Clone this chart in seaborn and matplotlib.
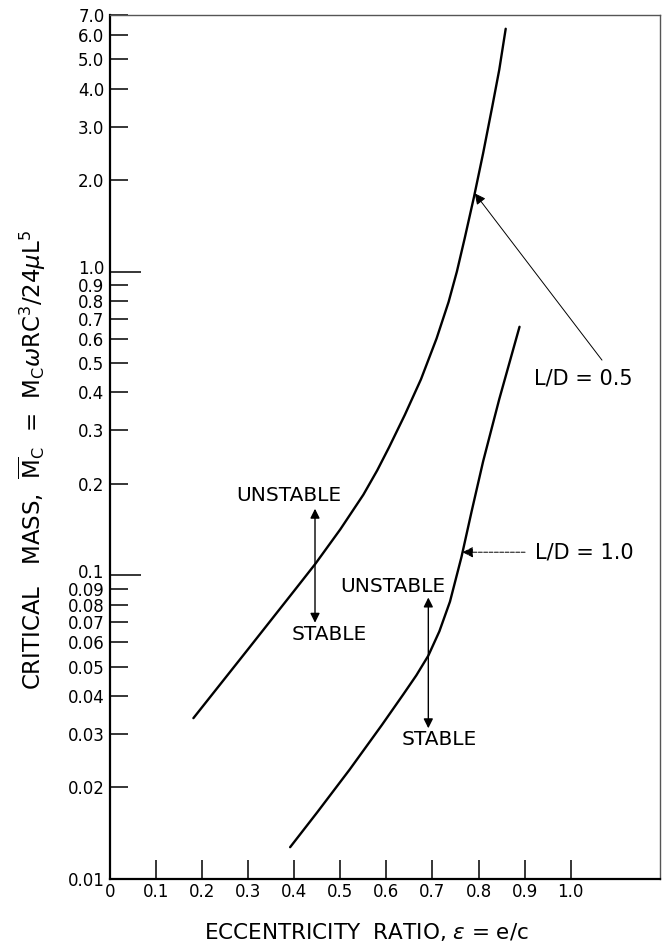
import numpy as np
import pandas as pd
import seaborn as sns
import matplotlib.pyplot as plt
from matplotlib.transforms import ScaledTranslation

# curve: L/D = 0.5
ecc_05 = [0.181, 0.30, 0.40, 0.446, 0.50, 0.55, 0.58, 0.606, 0.64, 0.675, 0.709, 0.735,
          0.753, 0.77, 0.79, 0.81, 0.83, 0.845, 0.859]
mass_05 = [0.0338, 0.0571, 0.0889, 0.1091, 0.1416, 0.1841, 0.2213, 0.2642, 0.3373, 0.4416,
           0.6026, 0.7943, 1.0, 1.288, 1.758, 2.455, 3.508, 4.624, 6.31]

# L/D = 1.0
ecc_10 = [0.391, 0.45, 0.52, 0.59, 0.637, 0.665, 0.691, 0.715, 0.738, 0.763, 0.785,
          0.810, 0.845, 0.889]
mass_10 = [0.0127, 0.01656, 0.02286, 0.03206, 0.04055, 0.04677, 0.0543, 0.0653, 0.0818,
           0.1148, 0.1622, 0.2371, 0.380, 0.658]

x_ticks = [0, 0.1, 0.2, 0.3, 0.4, 0.5, 0.6, 0.7, 0.8, 0.9, 1.0]
x_labels = ["0", "0.1", "0.2", "0.3", "0.4", "0.5", "0.6", "0.7", "0.8", "0.9", "1.0"]
y_ticks = [0.01, 0.02, 0.03, 0.04, 0.05, 0.06, 0.07, 0.08, 0.09, 0.1,
           0.2, 0.3, 0.4, 0.5, 0.6, 0.7, 0.8, 0.9, 1.0,
           2.0, 3.0, 4.0, 5.0, 6.0, 7.0]
y_labels = ["0.01", "0.02", "0.03", "0.04", "0.05", "0.06", "0.07", "0.08", "0.09", "0.1",
            "0.2", "0.3", "0.4", "0.5", "0.6", "0.7", "0.8", "0.9", "1.0",
            "2.0", "3.0", "4.0", "5.0", "6.0", "7.0"]

sns.set_style("ticks")
plt.rcParams['font.family'] = ['DejaVu Sans']
plt.rcParams['mathtext.fontset'] = 'dejavusans'
plt.rcParams['text.color'] = 'black'
plt.rcParams['axes.labelcolor'] = 'black'
plt.rcParams['xtick.color'] = 'black'
plt.rcParams['ytick.color'] = 'black'

fig = plt.figure(figsize=(6.64, 9.42), dpi=100)
ax = fig.add_axes([0.1657, 0.0672, 0.8283, 0.9168])

df = pd.concat([
    pd.DataFrame({"ecc": ecc_05, "mass": mass_05, "LD": "0.5"}),
    pd.DataFrame({"ecc": ecc_10, "mass": mass_10, "LD": "1.0"}),
])
sns.lineplot(data=df, x="ecc", y="mass", units="LD", estimator=None, sort=False,
             color="black", lw=1.7, ax=ax, legend=False)

ax.set_yscale("log")
ax.set_xlim(0, 1.194)
ax.set_ylim(0.01, 7.0)

ax.set_yticks(y_ticks)
ax.set_yticklabels(y_labels)
ax.minorticks_off()
ax.set_xticks(x_ticks)
ax.set_xticklabels(x_labels)

ax.tick_params(axis="both", direction="in", labelsize=12, width=1.1)
ax.tick_params(axis="y", length=13, pad=4)
ax.tick_params(axis="x", length=14, pad=3)
shift_up = ScaledTranslation(0, 3 / 72, fig.dpi_scale_trans)
for t in ax.yaxis.get_major_ticks():
    if t.get_loc() in (0.1, 1.0):
        t.tick1line.set_markersize(22)
        t.label1.set_transform(t.label1.get_transform() + shift_up)

for s in ["left", "bottom"]:
    ax.spines[s].set_linewidth(1.6)
    ax.spines[s].set_color("black")
for s in ["top", "right"]:
    ax.spines[s].set_linewidth(1.0)
    ax.spines[s].set_color("#555555")

ax.set_xlabel(r"ECCENTRICITY  RATIO, $\epsilon$ = e/c", fontsize=15.5)
ax.xaxis.set_label_coords(0.466, -0.049)
ax.set_ylabel(r"CRITICAL   MASS,  $\overline{\mathrm{M}}_\mathrm{C}$  =  M$_\mathrm{C}\omega$RC$^3$/24$\mu$L$^5$",
              fontsize=16.5)
ax.yaxis.set_label_coords(-0.112, 0.485)

# curve labels
ax.annotate("", xy=(0.792, 1.81), xytext=(1.068, 0.511),
            arrowprops=dict(arrowstyle="-|>", color="black", lw=0.7, mutation_scale=16, shrinkA=0, shrinkB=0))
ax.text(0.92, 0.446, "L/D = 0.5", fontsize=15, va="center", ha="left")
ax.annotate("", xy=(0.765, 0.119), xytext=(0.901, 0.119),
            arrowprops=dict(arrowstyle="-|>", color="black", lw=0.7, ls=(0, (4, 1.5)),
                            mutation_scale=16, shrinkA=0, shrinkB=0))
ax.text(0.922, 0.119, "L/D = 1.0", fontsize=15, va="center", ha="left")

# stability arrows
ax.annotate("", xy=(0.445, 0.1655), xytext=(0.445, 0.0697),
            arrowprops=dict(arrowstyle="<|-|>", color="black", lw=1.0, mutation_scale=14, shrinkA=0, shrinkB=0))
ax.text(0.388, 0.1824, "UNSTABLE", fontsize=14.5, ha="center", va="center")
ax.text(0.476, 0.0637, "STABLE", fontsize=14.5, ha="center", va="center")
ax.annotate("", xy=(0.691, 0.0844), xytext=(0.691, 0.0313),
            arrowprops=dict(arrowstyle="<|-|>", color="black", lw=1.0, mutation_scale=14, shrinkA=0, shrinkB=0))
ax.text(0.614, 0.092, "UNSTABLE", fontsize=14.5, ha="center", va="center")
ax.text(0.714, 0.0287, "STABLE", fontsize=14.5, ha="center", va="center")

fig.savefig("out.png", dpi=100)
